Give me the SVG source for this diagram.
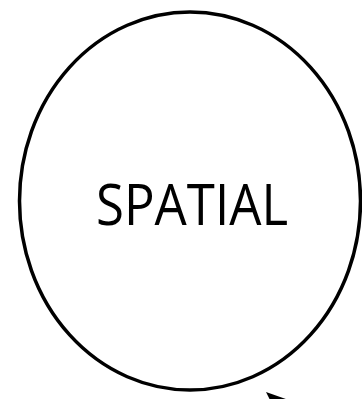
<svg xmlns="http://www.w3.org/2000/svg" width="362" height="399" viewBox="0 0 362 399">
<style>
.node{fill:#fff;stroke:#000;stroke-width:3.5}
.lbl{font-family:"Open Sans","Noto Sans",sans-serif;font-size:56px;fill:#000}
</style>
<rect width="362" height="399" fill="#fff"/>
<g id="spatial">
<ellipse class="node" cx="190" cy="201" rx="170.5" ry="189"/>
<text class="lbl" x="96" y="225" textLength="192" lengthAdjust="spacingAndGlyphs">SPATIAL</text>
</g>
<g id="connectors">
<polygon points="266,392 300,404 276,412" fill="#000"/>
</g>
</svg>
